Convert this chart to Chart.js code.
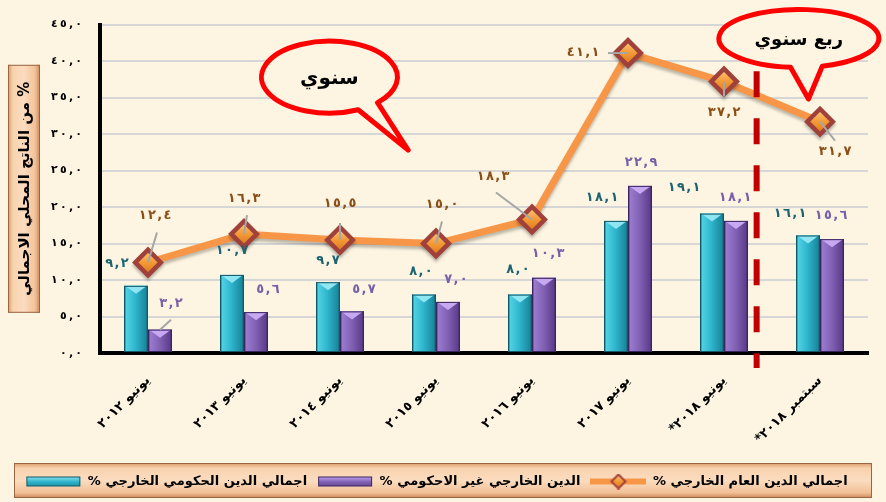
<!DOCTYPE html>
<html lang="ar">
<head>
<meta charset="utf-8">
<script src="https://cdn.jsdelivr.net/npm/chart.js@4.4.0/dist/chart.umd.min.js"></script>
<style>
html, body { margin: 0; padding: 0; background: #fdf5e2; }
#wrap { width: 886px; height: 502px; }
canvas { display: block; }
</style>
</head>
<body>
<div id="wrap"><canvas id="debtChart" width="886" height="502" dir="rtl"></canvas></div>
<script>
// البيانات
const categories = ['يونيو ٢٠١٢', 'يونيو ٢٠١٣', 'يونيو ٢٠١٤', 'يونيو ٢٠١٥', 'يونيو ٢٠١٦', 'يونيو ٢٠١٧', 'يونيو ٢٠١٨*', 'سبتمبر ٢٠١٨*'];
const govDebt = [9.2, 10.7, 9.7, 8.0, 8.0, 18.1, 19.1, 16.1];
const nonGovDebt = [3.2, 5.6, 5.7, 7.0, 10.3, 22.9, 18.1, 15.6];
const totalDebt = [12.4, 16.3, 15.5, 15.0, 18.3, 41.1, 37.2, 31.7];
const yTickLabels = ['٠,٠', '٥,٠', '١٠,٠', '١٥,٠', '٢٠,٠', '٢٥,٠', '٣٠,٠', '٣٥,٠', '٤٠,٠', '٤٥,٠'];
const seriesNames = ['اجمالي الدين الحكومي الخارجي %', 'الدين الخارجي غير الاحكومي %', 'اجمالي الدين العام الخارجي %'];
const yTitle = '% من الناتج المحلي الاجمالي';
const calloutAnnual = 'سنوي';
const calloutQuarter = 'ربع سنوي';

const FONT = '"DejaVu Sans", sans-serif';
const BG = '#fdf5e2';

function arabicNum(v) {
    return v.toFixed(1).replace('.', ',').replace(/[0-9]/g, d => '٠١٢٣٤٥٦٧٨٩'[+d]);
}
function spaced(s, gap) {
    return '\u202D' + s.split('').join(gap || '\u2009') + '\u202C';
}

// label offsets (px) from bar top / point, and optional leader end
const labelOffsets = [
    [[-19, -22], [0, -24], [0, -22], [-3, -23], [-2, -25], [-14, -23], [-28, -26], [-18, -22]],
    [[11, -26], [12, -23], [12, -22], [8, -22], [4, -24], [1, -23], [-1, -23], [-1, -24]],
    [[7, -47], [0, -35], [0, -36], [6, -39], [-39, -43], [-45, 0], [0, 31], [15, 30]]
];
const leaders = [
    [null, null, null, null, null, null, null, null],
    [[11, -10], null, null, null, null, null, null, null],
    [[9, -30], [3, -19], [0, -17], [6, -22], [-36, -27], [-20, 0], [0, 15], [15, 19]]
];
const labelColors = ['#1d6473', '#7a5fa8', '#8b4f16'];

const barLook = [
    { edge: '#0f5866', light: '#4fd0e4', mid: '#2db3ca', dark: '#1a8aa0', top: '#8fe5f2' },
    { edge: '#3a2460', light: '#9a7acb', mid: '#8060b3', dark: '#5f3f8e', top: '#c7a8f2' }
];

function makeLegendImg(kind) {
    const c = document.createElement('canvas');
    c.width = 56; c.height = 16;
    const g = c.getContext('2d');
    if (kind === 2) {
        g.strokeStyle = '#f79646'; g.lineWidth = 6;
        g.beginPath(); g.moveTo(0, 8); g.lineTo(56, 8); g.stroke();
        drawDiamond(g, 28, 8, 7);
    } else {
        const look = barLook[kind];
        const gr = g.createLinearGradient(0, 3, 0, 14);
        gr.addColorStop(0, look.top); gr.addColorStop(0.5, look.mid); gr.addColorStop(1, look.dark);
        g.fillStyle = gr; g.fillRect(1, 3, 54, 10);
        g.strokeStyle = look.edge; g.lineWidth = 1; g.strokeRect(1.5, 3.5, 53, 9);
    }
    return c;
}
function drawDiamond(ctx, x, y, r) {
    const gr = ctx.createLinearGradient(0, y - r, 0, y + r);
    gr.addColorStop(0, '#fcc57a'); gr.addColorStop(0.5, '#f39a36'); gr.addColorStop(1, '#de7a1c');
    ctx.beginPath();
    ctx.moveTo(x, y - r); ctx.lineTo(x + r, y); ctx.lineTo(x, y + r); ctx.lineTo(x - r, y); ctx.closePath();
    ctx.fillStyle = gr; ctx.fill();
    ctx.strokeStyle = '#a0413b'; ctx.lineWidth = 2; ctx.stroke();
}
const legendImgs = [makeLegendImg(0), makeLegendImg(1), makeLegendImg(2)];

function bevelBox(ctx, x, y, w, h, horizontal) {
    const g = horizontal ? ctx.createLinearGradient(x, 0, x + w, 0) : ctx.createLinearGradient(0, y, 0, y + h);
    g.addColorStop(0, '#d9996a');
    g.addColorStop(0.15, '#f9d2ae');
    g.addColorStop(0.5, '#fbdcbf');
    g.addColorStop(0.85, '#f2c198');
    g.addColorStop(1, '#c98656');
    ctx.fillStyle = g;
    ctx.fillRect(x, y, w, h);
    ctx.strokeStyle = '#9a6642';
    ctx.lineWidth = 1;
    ctx.strokeRect(x + 0.5, y + 0.5, w - 1, h - 1);
}

function bubble(ctx, cx, cy, rx, ry, a1, a2, tx, ty, text, size) {
    ctx.save();
    ctx.beginPath();
    ctx.ellipse(cx, cy, rx, ry, 0, a1 * Math.PI / 180, (a2 + 360) * Math.PI / 180);
    ctx.lineTo(tx, ty);
    ctx.closePath();
    ctx.fillStyle = BG; ctx.fill();
    ctx.strokeStyle = '#ff0000'; ctx.lineWidth = 5; ctx.lineJoin = 'round';
    ctx.stroke();
    ctx.fillStyle = '#000';
    ctx.font = 'bold ' + size + 'px ' + FONT;
    ctx.textAlign = 'center'; ctx.textBaseline = 'middle';
    ctx.fillText(text, cx, cy + 2);
    ctx.restore();
}

const decorPlugin = {
    id: 'decor',
    beforeDraw(chart) {
        const ctx = chart.ctx;
        const area = chart.chartArea;
        ctx.save();
        ctx.fillStyle = BG;
        ctx.fillRect(0, 0, chart.width, chart.height);
        const midY = (area.top + area.bottom) / 2;
        bevelBox(ctx, 8, midY - 124, 32, 248, true);
        const lg = chart.legend;
        bevelBox(ctx, 14, lg.top - 2, 858, lg.bottom - lg.top + 2, false);
        ctx.restore();
    },
    beforeDatasetDraw(chart, args) {
        if (args.index === 2) {
            chart.ctx.save();
            chart.ctx.shadowColor = 'rgba(0,0,0,0.25)';
            chart.ctx.shadowOffsetY = 3;
            chart.ctx.shadowBlur = 3;
        }
    },
    afterDatasetDraw(chart, args) {
        const ctx = chart.ctx;
        const meta = args.meta;
        if (args.index === 2) {
            ctx.restore();
            ctx.save();
            meta.data.forEach(p => drawDiamond(ctx, p.x, p.y, 11));
            ctx.restore();
            return;
        }
        const look = barLook[args.index];
        ctx.save();
        meta.data.forEach(el => {
            const { x, y, base, width } = el.getProps(['x', 'y', 'base', 'width'], true);
            const l = x - width / 2, r = x + width / 2;
            const g = ctx.createLinearGradient(l, 0, r, 0);
            g.addColorStop(0, look.edge);
            g.addColorStop(0.1, look.light);
            g.addColorStop(0.5, look.mid);
            g.addColorStop(0.9, look.dark);
            g.addColorStop(1, look.edge);
            ctx.fillStyle = g;
            ctx.fillRect(l, y, width, base - y);
            ctx.beginPath();
            ctx.moveTo(l + 1, y); ctx.lineTo(r - 1, y); ctx.lineTo(x, y + 8); ctx.closePath();
            ctx.fillStyle = look.top; ctx.fill();
            ctx.strokeStyle = look.edge; ctx.lineWidth = 1;
            ctx.strokeRect(l + 0.5, y + 0.5, width - 1, base - y - 1);
        });
        ctx.restore();
    },
    afterDatasetsDraw(chart) {
        const ctx = chart.ctx;
        const xs = chart.scales.x, ys = chart.scales.y;
        ctx.save();
        // dashed separator between annual and quarterly data
        const sx = xs.getPixelForValue(6.34);
        ctx.strokeStyle = '#c00000'; ctx.lineWidth = 6;
        ctx.setLineDash([26, 21]);
        ctx.beginPath(); ctx.moveTo(sx, ys.getPixelForValue(38.6)); ctx.lineTo(sx, ys.getPixelForValue(0) + 15); ctx.stroke();
        ctx.setLineDash([]);

        // leaders and value labels
        ctx.font = 'bold 13px ' + FONT;
        ctx.textAlign = 'center'; ctx.textBaseline = 'middle';
        [0, 1, 2].forEach(di => {
            const meta = chart.getDatasetMeta(di);
            const values = chart.data.datasets[di].data;
            meta.data.forEach((el, i) => {
                const ld = leaders[di][i];
                if (ld) {
                    ctx.strokeStyle = '#a6a6a6'; ctx.lineWidth = 2;
                    ctx.beginPath(); ctx.moveTo(el.x, el.y); ctx.lineTo(el.x + ld[0], el.y + ld[1]); ctx.stroke();
                }
                const off = labelOffsets[di][i];
                ctx.fillStyle = labelColors[di];
                ctx.fillText(spaced(arabicNum(values[i]), '\u200A'), el.x + off[0], el.y + off[1]);
            });
        });

        // callouts
        bubble(ctx, xs.getPixelForValue(1.89), ys.getPixelForValue(37.8), 68, 36, 65, 45,
            xs.getPixelForValue(2.71), ys.getPixelForValue(27.8), calloutAnnual, 20);
        bubble(ctx, xs.getPixelForValue(6.78), ys.getPixelForValue(43.1), 80, 29, 96, 73,
            xs.getPixelForValue(6.88), ys.getPixelForValue(34.8), calloutQuarter, 18);
        ctx.restore();
    }
};

const ctx = document.getElementById('debtChart').getContext('2d');
window.debtChart = new Chart(ctx, {
    type: 'bar',
    data: {
        labels: categories,
        datasets: [{
            label: seriesNames[0],
            data: govDebt,
            backgroundColor: '#2db3ca',
            borderWidth: 0,
            order: 1
        }, {
            label: seriesNames[1],
            data: nonGovDebt,
            backgroundColor: '#8060b3',
            borderWidth: 0,
            order: 1
        }, {
            type: 'line',
            label: seriesNames[2],
            data: totalDebt,
            borderColor: '#f79646',
            borderWidth: 7,
            pointStyle: 'rectRot',
            pointRadius: 11,
            pointBackgroundColor: '#f39a36',
            pointBorderColor: '#a0413b',
            tension: 0,
            order: 0
        }]
    },
    options: {
        responsive: false,
        animation: false,
        categoryPercentage: 0.5,
        barPercentage: 1.0,
        layout: { padding: { top: 20, right: 13, bottom: 4, left: 0 } },
        plugins: {
            tooltip: { enabled: false },
            legend: {
                position: 'bottom',
                labels: {
                    usePointStyle: true,
                    pointStyleWidth: 56,
                    padding: 10,
                    color: '#000',
                    font: { family: FONT, size: 13, weight: 'bold' },
                    sort: (a, b) => a.datasetIndex - b.datasetIndex,
                    generateLabels(chart) {
                        const items = Chart.defaults.plugins.legend.labels.generateLabels(chart);
                        items.forEach(it => { it.pointStyle = legendImgs[it.datasetIndex]; });
                        return items;
                    }
                }
            }
        },
        scales: {
            x: {
                grid: { display: false },
                border: { color: '#000', width: 4 },
                ticks: {
                    autoSkip: false,
                    minRotation: 45,
                    maxRotation: 45,
                    padding: 12,
                    color: '#000',
                    font: { family: FONT, size: 13, weight: 'bold' }
                },
                afterFit(scale) { scale.height = 112; }
            },
            y: {
                min: 0,
                max: 45,
                grid: { color: '#d6d6d6', lineWidth: 2, drawTicks: false },
                border: { color: '#000', width: 4 },
                ticks: {
                    stepSize: 5,
                    padding: 18,
                    color: '#000',
                    font: { family: FONT, size: 11, weight: 'bold' },
                    callback: (v, i) => spaced(yTickLabels[i])
                },
                title: {
                    display: true,
                    text: yTitle,
                    color: '#000',
                    padding: { top: 16, bottom: 0 },
                    font: { family: FONT, size: 15, weight: 'bold' }
                },
                afterFit(scale) { scale.width = 100; }
            }
        }
    },
    plugins: [decorPlugin]
});
</script>
</body>
</html>
